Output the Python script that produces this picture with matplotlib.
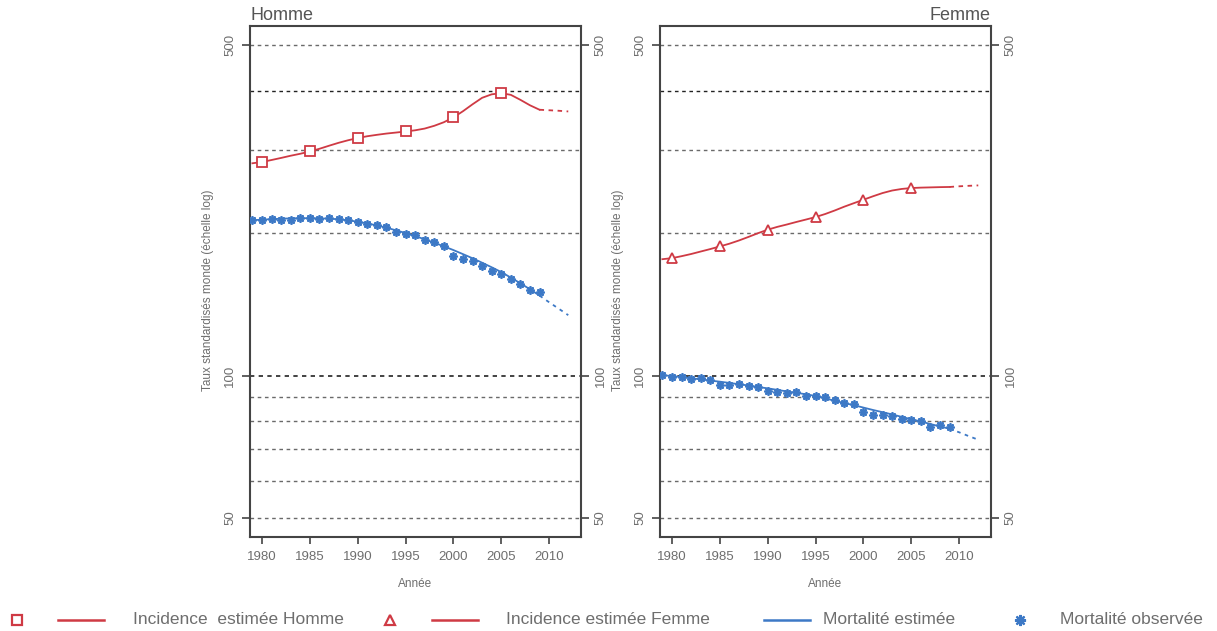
import matplotlib
matplotlib.use("Agg")
import matplotlib.pyplot as plt
from matplotlib.lines import Line2D
import numpy as np

plt.rcParams['font.family'] = ['Liberation Sans', 'DejaVu Sans']

# ---------------- data ----------------
years_line = list(range(1979, 2013))          # estimated curves 1979-2012
years_obs = list(range(1979, 2010))           # observed mortality 1979-2009
years_mark = [1980, 1985, 1990, 1995, 2000, 2005]

homme_incidence = [281.0, 282.7, 285.5, 288.4, 291.5, 294.3, 297.6, 301.5, 306.0, 310.4,
                   314.3, 317.7, 320.5, 322.7, 324.7, 326.3, 328.0, 329.9, 332.7, 337.2,
                   343.1, 351.2, 362.0, 374.4, 386.4, 393.0, 395.3, 392.0, 382.6, 372.6,
                   364.6, 363.7, 362.8, 361.6]
homme_incidence_marks = [282.7, 297.6, 317.7, 328.0, 351.2, 395.3]

homme_mort_est = [213.0, 213.6, 214.1, 214.6, 214.9, 215.1, 215.1, 215.0, 214.6, 214.0,
                  212.9, 211.5, 209.7, 207.7, 205.4, 202.8, 200.1, 197.2, 194.1, 190.9,
                  187.6, 184.2, 180.6, 177.0, 173.2, 169.4, 165.5, 161.1, 156.7, 152.2,
                  147.6, 142.9, 138.5, 134.2]
homme_mort_obs = [213.6, 213.6, 214.6, 213.6, 213.6, 215.3, 215.3, 214.6, 215.3, 214.2,
                  213.6, 210.8, 209.4, 207.7, 206.1, 201.2, 199.3, 197.9, 193.7, 191.6,
                  187.5, 179.2, 176.4, 174.3, 170.7, 166.1, 164.2, 160.0, 156.2, 151.9,
                  150.2]

femme_incidence = [176.2, 177.1, 178.8, 180.7, 182.9, 185.1, 187.5, 190.0, 193.0, 196.4,
                   200.0, 203.4, 206.2, 208.6, 211.2, 213.7, 216.3, 219.5, 223.3, 227.5,
                   231.4, 235.3, 239.3, 243.1, 246.1, 248.0, 249.1, 249.6, 249.9, 250.2,
                   250.4, 251.2, 251.8, 252.3]
femme_incidence_marks = [177.1, 187.5, 203.4, 216.3, 235.3, 249.1]

femme_mort_est = [100.2, 99.8, 99.3, 98.7, 98.2, 97.6, 97.1, 96.5, 95.9, 95.3,
                  94.6, 94.0, 93.3, 92.6, 92.0, 91.3, 90.6, 89.5, 88.5, 87.5,
                  86.6, 85.6, 84.6, 83.7, 82.8, 81.8, 80.9, 80.0, 79.0, 78.1,
                  77.2, 75.9, 74.5, 73.2]
femme_mort_obs = [100.5, 99.5, 99.5, 98.4, 99.0, 98.1, 95.7, 95.7, 96.2, 95.3,
                  94.6, 92.6, 92.5, 91.9, 92.4, 90.4, 90.4, 90.0, 88.7, 87.6,
                  87.3, 83.8, 82.7, 82.7, 82.3, 81.1, 80.7, 80.0, 77.9, 78.5,
                  78.0]

grid_values = [500, 400, 300, 200, 100, 90, 80, 70, 60, 50]
dark_grid = [400, 100]
ytick_values = [50, 100, 500]
xtick_values = [1980, 1985, 1990, 1995, 2000, 2005, 2010]
last_solid_year = 2009

panel_titles = ["Homme", "Femme"]
ylabel_text = "Taux standardisés monde (échelle log)"
xlabel_text = "Année"
legend_labels = ["Incidence  estimée Homme", "Incidence estimée Femme",
                 "Mortalité estimée", "Mortalité observée"]

# ---------------- style ----------------
RED = "#cf3a44"
BLUE = "#3d79c6"
GRAY_TXT = "#6e6e6e"
SPINE = "#444444"
STAR = (8, 2, 0)

fig = plt.figure(figsize=(12.17, 6.31), dpi=100)
ax_h = fig.add_axes([250/1217, 1-537/631, 330.7/1217, 511/631])
ax_f = fig.add_axes([660/1217, 1-537/631, 330.7/1217, 511/631])

def split(years, vals):
    ys = np.array(years); vs = np.array(vals)
    solid = ys <= last_solid_year
    dashed = ys >= last_solid_year
    return ys[solid], vs[solid], ys[dashed], vs[dashed]

def draw_panel(ax, inc, inc_marks, inc_marker, mort_est, mort_obs, title, title_loc):
    ax.set_yscale('log')
    ax.set_ylim(45.6, 548)
    ax.set_xlim(1978.75, 2013.3)
    for g in grid_values:
        ax.axhline(g, color="#222222" if g in dark_grid else "#6a6a6a",
                   lw=1.2 if g == 100 else 1.0, ls=(0, (2.6, 2.6)), zorder=1)
    # incidence
    xs, vs, xd, vd = split(years_line, inc)
    ax.plot(xs, vs, color=RED, lw=1.3, zorder=3)
    ax.plot(xd, vd, color=RED, lw=1.3, ls=(0, (2.5, 2.5)), zorder=3)
    ax.plot(years_mark, inc_marks, ls='none', marker=inc_marker, ms=7.5,
            mfc='white', mec=RED, mew=1.3, zorder=4)
    # mortality
    xs, vs, xd, vd = split(years_line, mort_est)
    ax.plot(xs, vs, color=BLUE, lw=1.3, zorder=3)
    ax.plot(xd, vd, color=BLUE, lw=1.3, ls=(0, (2.0, 2.5)), zorder=3)
    ax.plot(years_obs, mort_obs, ls='none', marker=STAR, ms=6,
            mec=BLUE, mew=1.3, zorder=4)

    ax.set_xticks(xtick_values)
    ax.set_xticklabels([str(v) for v in xtick_values])
    ax.set_yticks(ytick_values)
    ax.set_yticklabels([str(v) for v in ytick_values])
    ax.minorticks_off()
    ax.tick_params(axis='y', which='both', left=True, right=True, labelleft=True,
                   labelright=True, direction='out', length=6, width=1.2,
                   color=SPINE, labelcolor=GRAY_TXT, labelsize=9.5, pad=4)
    for lab in ax.get_yticklabels():
        lab.set_rotation(90)
        lab.set_va('center')
    ax.tick_params(axis='x', direction='out', length=5, width=1.2, color=SPINE,
                   labelcolor=GRAY_TXT, labelsize=9.5, pad=5)
    for sp in ax.spines.values():
        sp.set_color(SPINE)
        sp.set_linewidth(1.5)
    ax.set_xlabel(xlabel_text, color=GRAY_TXT, fontsize=8.5, labelpad=11)
    ax.set_title(title, loc=title_loc, color="#555555", fontsize=13, pad=4)

draw_panel(ax_h, homme_incidence, homme_incidence_marks, 's',
           homme_mort_est, homme_mort_obs, panel_titles[0], 'left')
draw_panel(ax_f, femme_incidence, femme_incidence_marks, '^',
           femme_mort_est, femme_mort_obs, panel_titles[1], 'right')

# y labels
fig.text(208/1217, 1-290/631, ylabel_text, rotation=90, ha='center', va='center',
         color=GRAY_TXT, fontsize=8.5)
fig.text(618/1217, 1-290/631, ylabel_text, rotation=90, ha='center', va='center',
         color=GRAY_TXT, fontsize=8.5)

# ---------------- legend ----------------
ly = 1 - 620/631
def fx(px):
    return px/1217

LFS = 12.5
fig.add_artist(Line2D([fx(17)], [ly], marker='s', ms=7, mfc='white', mec=RED,
                      mew=1.6, ls='none', transform=fig.transFigure))
fig.add_artist(Line2D([fx(58), fx(104)], [ly, ly], color=RED, lw=1.8,
                      transform=fig.transFigure))
fig.text(fx(133), ly, legend_labels[0], color=GRAY_TXT, fontsize=LFS, va='center')

fig.add_artist(Line2D([fx(390)], [ly], marker='^', ms=7, mfc='white', mec=RED,
                      mew=1.6, ls='none', transform=fig.transFigure))
fig.add_artist(Line2D([fx(432), fx(478)], [ly, ly], color=RED, lw=1.8,
                      transform=fig.transFigure))
fig.text(fx(506), ly, legend_labels[1], color=GRAY_TXT, fontsize=LFS, va='center')

fig.add_artist(Line2D([fx(764), fx(810)], [ly, ly], color=BLUE, lw=1.8,
                      transform=fig.transFigure))
fig.text(fx(823), ly, legend_labels[2], color=GRAY_TXT, fontsize=LFS, va='center')

fig.add_artist(Line2D([fx(1020)], [ly], marker=STAR, ms=8, mec=BLUE, mew=1.6,
                      ls='none', transform=fig.transFigure))
fig.text(fx(1060), ly, legend_labels[3], color=GRAY_TXT, fontsize=LFS, va='center')

fig.savefig("out.png", dpi=100)
